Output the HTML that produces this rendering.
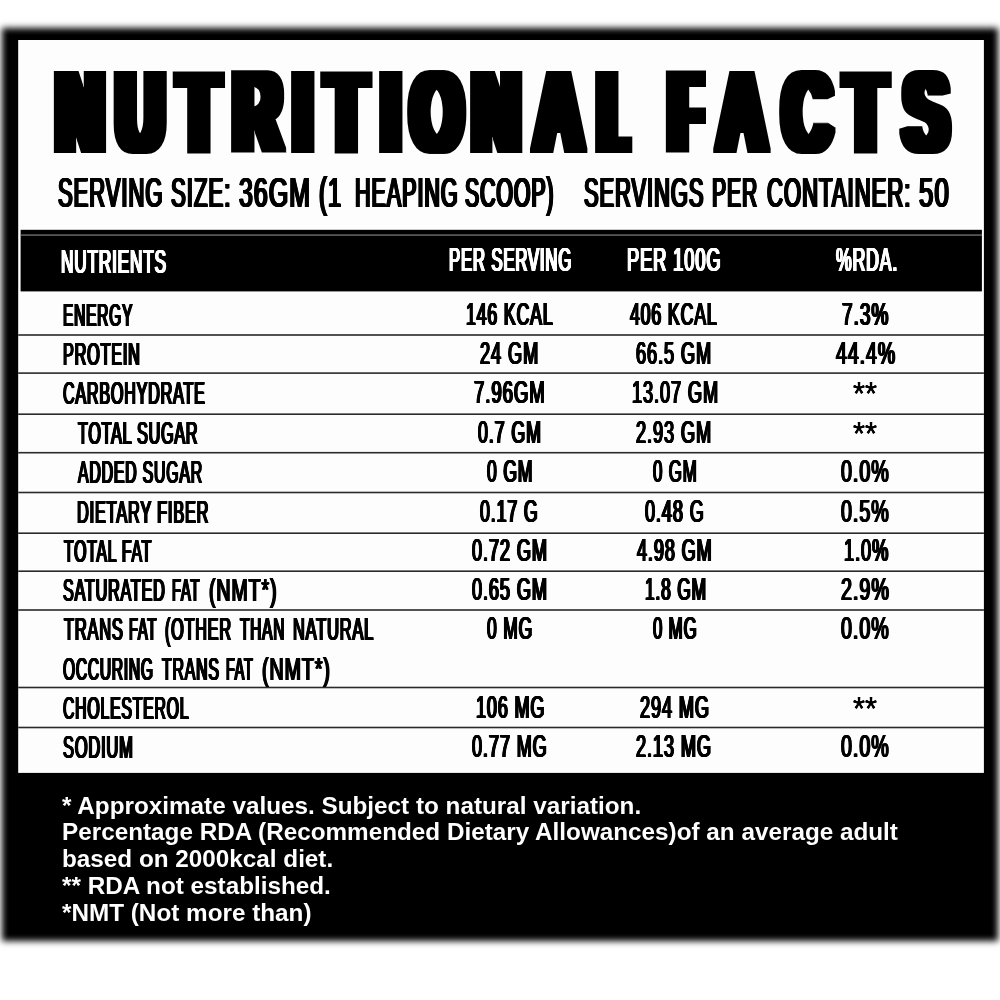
<!DOCTYPE html>
<html lang="en"><head><meta charset="utf-8"><title>Nutritional Facts</title>
<style>
html,body{margin:0;padding:0;background:#fff;}
body{width:1000px;height:1000px;position:relative;overflow:hidden;font-family:"Liberation Sans",sans-serif;}
.frame{position:absolute;left:8.5px;top:34.5px;width:982.5px;height:899.3px;background:#000;box-shadow:0 0 6.5px 7px #000;}
.ov{position:absolute;left:0;top:0;}
.t{position:absolute;white-space:nowrap;line-height:1;transform-origin:0 0;display:block;}
.b{font-weight:bold;}
.r{font-weight:normal;}
.foot{position:absolute;color:#fff;font-weight:bold;white-space:nowrap;transform-origin:0 0;}
.g{position:absolute;left:0;top:0;width:1000px;height:1000px;filter:grayscale(1);}
</style></head><body><div class="g">
<div class="frame"></div>
<svg class="ov" width="1000" height="1000" viewBox="0 0 1000 1000">
<rect x="18.2" y="40" width="965.7" height="732.9" fill="#fdfdfd"/>
<rect x="20.6" y="229.8" width="961.3" height="61.6" fill="#000"/>
<rect x="20.6" y="234.5" width="961.3" height="1.1" fill="#8c8c8c"/>
<rect x="18.2" y="334.20" width="965.7" height="1.60" fill="#2a2a2a"/>
<rect x="18.2" y="372.30" width="965.7" height="1.60" fill="#2a2a2a"/>
<rect x="18.2" y="413.40" width="965.7" height="1.60" fill="#2a2a2a"/>
<rect x="18.2" y="451.90" width="965.7" height="1.60" fill="#2a2a2a"/>
<rect x="18.2" y="491.70" width="965.7" height="1.60" fill="#2a2a2a"/>
<rect x="18.2" y="532.40" width="965.7" height="1.60" fill="#2a2a2a"/>
<rect x="18.2" y="570.40" width="965.7" height="1.60" fill="#2a2a2a"/>
<rect x="18.2" y="609.20" width="965.7" height="1.60" fill="#2a2a2a"/>
<rect x="18.2" y="686.70" width="965.7" height="1.60" fill="#2a2a2a"/>
<rect x="18.2" y="726.70" width="965.7" height="1.60" fill="#2a2a2a"/>
<defs><filter id="hv" filterUnits="userSpaceOnUse" x="0" y="40" width="1000" height="140"><feMorphology operator="dilate" radius="7 2"/></filter></defs><g filter="url(#hv)"><text transform="translate(0,150.80) scale(0.5704,1)" font-family="Liberation Sans, sans-serif" font-weight="bold" font-size="113.95" fill="#000" x="99.1 204.5 313.8 409.7 514.9 572.2 669.1 721.6 828.9 938.6 1048.0 1122.0 1171.9 1259.7 1373.8 1482.9 1585.1">NUTRITIONAL FACTS</text></g><rect x="632.3" y="120" width="14" height="36" fill="#fdfdfd"/><rect x="706" y="66" width="7" height="58" fill="#fdfdfd"/>
</svg>
<span class="t r" style="left:58.36px;top:170.96px;font-size:42.88px;transform:scaleX(0.5127);color:#000;letter-spacing:0.045em;text-shadow:-2.05px 0.00px 0 #000,-1.37px 0.00px 0 #000,-0.68px 0.00px 0 #000,0.68px 0.00px 0 #000,1.37px 0.00px 0 #000,2.05px 0.00px 0 #000;">SERVING</span>
<span class="t r" style="left:170.95px;top:170.96px;font-size:42.88px;transform:scaleX(0.5168);color:#000;letter-spacing:0.045em;text-shadow:-2.03px 0.00px 0 #000,-1.35px 0.00px 0 #000,-0.68px 0.00px 0 #000,0.68px 0.00px 0 #000,1.35px 0.00px 0 #000,2.03px 0.00px 0 #000;">SIZE:</span>
<span class="t r" style="left:239.42px;top:170.96px;font-size:42.88px;transform:scaleX(0.5788);color:#000;letter-spacing:0.045em;text-shadow:-1.81px 0.00px 0 #000,-1.21px 0.00px 0 #000,-0.60px 0.00px 0 #000,0.60px 0.00px 0 #000,1.21px 0.00px 0 #000,1.81px 0.00px 0 #000;">36GM</span>
<span class="t r" style="left:319.13px;top:170.96px;font-size:42.88px;transform:scaleX(0.5509);color:#000;letter-spacing:0.045em;text-shadow:-1.91px 0.00px 0 #000,-1.27px 0.00px 0 #000,-0.64px 0.00px 0 #000,0.64px 0.00px 0 #000,1.27px 0.00px 0 #000,1.91px 0.00px 0 #000;">(1</span>
<span class="t r" style="left:355.23px;top:170.96px;font-size:42.88px;transform:scaleX(0.5015);color:#000;letter-spacing:0.045em;text-shadow:-2.09px 0.00px 0 #000,-1.40px 0.00px 0 #000,-0.70px 0.00px 0 #000,0.70px 0.00px 0 #000,1.40px 0.00px 0 #000,2.09px 0.00px 0 #000;">HEAPING</span>
<span class="t r" style="left:465.19px;top:170.96px;font-size:42.88px;transform:scaleX(0.4952);color:#000;letter-spacing:0.045em;text-shadow:-2.12px 0.00px 0 #000,-1.59px 0.00px 0 #000,-1.06px 0.00px 0 #000,-0.53px 0.00px 0 #000,0.53px 0.00px 0 #000,1.06px 0.00px 0 #000,1.59px 0.00px 0 #000,2.12px 0.00px 0 #000;">SCOOP)</span>
<span class="t r" style="left:583.57px;top:170.96px;font-size:42.88px;transform:scaleX(0.5098);color:#000;letter-spacing:0.045em;text-shadow:-2.06px 0.00px 0 #000,-1.37px 0.00px 0 #000,-0.69px 0.00px 0 #000,0.69px 0.00px 0 #000,1.37px 0.00px 0 #000,2.06px 0.00px 0 #000;">SERVINGS</span>
<span class="t r" style="left:711.86px;top:170.96px;font-size:42.88px;transform:scaleX(0.4926);color:#000;letter-spacing:0.045em;text-shadow:-2.13px 0.00px 0 #000,-1.60px 0.00px 0 #000,-1.07px 0.00px 0 #000,-0.53px 0.00px 0 #000,0.53px 0.00px 0 #000,1.07px 0.00px 0 #000,1.60px 0.00px 0 #000,2.13px 0.00px 0 #000;">PER</span>
<span class="t r" style="left:766.55px;top:170.96px;font-size:42.88px;transform:scaleX(0.5147);color:#000;letter-spacing:0.045em;text-shadow:-2.04px 0.00px 0 #000,-1.36px 0.00px 0 #000,-0.68px 0.00px 0 #000,0.68px 0.00px 0 #000,1.36px 0.00px 0 #000,2.04px 0.00px 0 #000;">CONTAINER:</span>
<span class="t r" style="left:919.42px;top:170.96px;font-size:42.88px;transform:scaleX(0.6011);color:#000;letter-spacing:0.045em;text-shadow:-1.75px 0.00px 0 #000,-1.16px 0.00px 0 #000,-0.58px 0.00px 0 #000,0.58px 0.00px 0 #000,1.16px 0.00px 0 #000,1.75px 0.00px 0 #000;">50</span>
<span class="t r" style="left:61.28px;top:244.57px;font-size:33.87px;transform:scaleX(0.5066);color:#fff;letter-spacing:0.050em;text-shadow:-1.68px 0.00px 0 #fff,-1.12px 0.00px 0 #fff,-0.56px 0.00px 0 #fff,0.56px 0.00px 0 #fff,1.12px 0.00px 0 #fff,1.68px 0.00px 0 #fff;">NUTRIENTS</span>
<span class="t r" style="left:448.51px;top:244.42px;font-size:32.56px;transform:scaleX(0.5136);color:#fff;letter-spacing:0.050em;text-shadow:-1.65px 0.00px 0 #fff,-1.10px 0.00px 0 #fff,-0.55px 0.00px 0 #fff,0.55px 0.00px 0 #fff,1.10px 0.00px 0 #fff,1.65px 0.00px 0 #fff;">PER SERVING</span>
<span class="t r" style="left:627.39px;top:244.42px;font-size:32.56px;transform:scaleX(0.5603);color:#fff;letter-spacing:0.050em;text-shadow:-1.52px 0.00px 0 #fff,-1.01px 0.00px 0 #fff,-0.51px 0.00px 0 #fff,0.51px 0.00px 0 #fff,1.01px 0.00px 0 #fff,1.52px 0.00px 0 #fff;">PER 100G</span>
<span class="t r" style="left:835.63px;top:244.42px;font-size:32.56px;transform:scaleX(0.5414);color:#fff;letter-spacing:0.050em;text-shadow:-1.57px 0.00px 0 #fff,-1.05px 0.00px 0 #fff,-0.52px 0.00px 0 #fff,0.52px 0.00px 0 #fff,1.05px 0.00px 0 #fff,1.57px 0.00px 0 #fff;">%RDA.</span>
<span class="t r" style="left:62.61px;top:300.08px;font-size:31.83px;transform:scaleX(0.4873);color:#000;letter-spacing:0.050em;text-shadow:-1.74px 0.00px 0 #000,-1.16px 0.00px 0 #000,-0.58px 0.00px 0 #000,0.58px 0.00px 0 #000,1.16px 0.00px 0 #000,1.74px 0.00px 0 #000;">ENERGY</span>
<span class="t r" style="left:465.53px;top:298.98px;font-size:31.83px;transform:scaleX(0.5547);color:#000;letter-spacing:0.050em;text-shadow:-1.53px 0.00px 0 #000,-1.02px 0.00px 0 #000,-0.51px 0.00px 0 #000,0.51px 0.00px 0 #000,1.02px 0.00px 0 #000,1.53px 0.00px 0 #000;">146 KCAL</span>
<span class="t r" style="left:630.45px;top:298.98px;font-size:31.83px;transform:scaleX(0.5552);color:#000;letter-spacing:0.050em;text-shadow:-1.53px 0.00px 0 #000,-1.02px 0.00px 0 #000,-0.51px 0.00px 0 #000,0.51px 0.00px 0 #000,1.02px 0.00px 0 #000,1.53px 0.00px 0 #000;">406 KCAL</span>
<span class="t r" style="left:842.39px;top:298.98px;font-size:31.83px;transform:scaleX(0.6001);color:#000;letter-spacing:0.050em;text-shadow:-1.42px 0.00px 0 #000,-0.94px 0.00px 0 #000,-0.47px 0.00px 0 #000,0.47px 0.00px 0 #000,0.94px 0.00px 0 #000,1.42px 0.00px 0 #000;">7.3%</span>
<span class="t r" style="left:62.55px;top:339.38px;font-size:31.83px;transform:scaleX(0.5091);color:#000;letter-spacing:0.050em;text-shadow:-1.67px 0.00px 0 #000,-1.11px 0.00px 0 #000,-0.56px 0.00px 0 #000,0.56px 0.00px 0 #000,1.11px 0.00px 0 #000,1.67px 0.00px 0 #000;">PROTEIN</span>
<span class="t r" style="left:479.94px;top:338.28px;font-size:31.83px;transform:scaleX(0.5709);color:#000;letter-spacing:0.050em;text-shadow:-1.49px 0.00px 0 #000,-0.99px 0.00px 0 #000,-0.50px 0.00px 0 #000,0.50px 0.00px 0 #000,0.99px 0.00px 0 #000,1.49px 0.00px 0 #000;">24 GM</span>
<span class="t r" style="left:636.44px;top:338.28px;font-size:31.83px;transform:scaleX(0.5711);color:#000;letter-spacing:0.050em;text-shadow:-1.49px 0.00px 0 #000,-0.99px 0.00px 0 #000,-0.50px 0.00px 0 #000,0.50px 0.00px 0 #000,0.99px 0.00px 0 #000,1.49px 0.00px 0 #000;">66.5 GM</span>
<span class="t r" style="left:836.41px;top:338.28px;font-size:31.83px;transform:scaleX(0.6117);color:#000;letter-spacing:0.050em;text-shadow:-1.39px 0.00px 0 #000,-0.69px 0.00px 0 #000,0.69px 0.00px 0 #000,1.39px 0.00px 0 #000;">44.4%</span>
<span class="t r" style="left:63.05px;top:378.18px;font-size:31.83px;transform:scaleX(0.5056);color:#000;letter-spacing:0.050em;text-shadow:-1.68px 0.00px 0 #000,-1.12px 0.00px 0 #000,-0.56px 0.00px 0 #000,0.56px 0.00px 0 #000,1.12px 0.00px 0 #000,1.68px 0.00px 0 #000;">CARBOHYDRATE</span>
<span class="t r" style="left:473.92px;top:377.08px;font-size:31.83px;transform:scaleX(0.5836);color:#000;letter-spacing:0.050em;text-shadow:-1.46px 0.00px 0 #000,-0.97px 0.00px 0 #000,-0.49px 0.00px 0 #000,0.49px 0.00px 0 #000,0.97px 0.00px 0 #000,1.46px 0.00px 0 #000;">7.96GM</span>
<span class="t r" style="left:631.99px;top:377.08px;font-size:31.83px;transform:scaleX(0.5707);color:#000;letter-spacing:0.050em;text-shadow:-1.49px 0.00px 0 #000,-0.99px 0.00px 0 #000,-0.50px 0.00px 0 #000,0.50px 0.00px 0 #000,0.99px 0.00px 0 #000,1.49px 0.00px 0 #000;">13.07 GM</span>
<span class="t r" style="left:853.39px;top:377.28px;font-size:33.43px;transform:scaleX(0.9213);color:#000;text-shadow:-0.27px 0.00px 0 #000,0.27px 0.00px 0 #000;">**</span>
<span class="t r" style="left:77.83px;top:417.98px;font-size:31.83px;transform:scaleX(0.5056);color:#000;letter-spacing:0.050em;text-shadow:-1.68px 0.00px 0 #000,-1.12px 0.00px 0 #000,-0.56px 0.00px 0 #000,0.56px 0.00px 0 #000,1.12px 0.00px 0 #000,1.68px 0.00px 0 #000;">TOTAL SUGAR</span>
<span class="t r" style="left:477.68px;top:416.88px;font-size:31.83px;transform:scaleX(0.5600);color:#000;letter-spacing:0.050em;text-shadow:-1.52px 0.00px 0 #000,-1.01px 0.00px 0 #000,-0.51px 0.00px 0 #000,0.51px 0.00px 0 #000,1.01px 0.00px 0 #000,1.52px 0.00px 0 #000;">0.7 GM</span>
<span class="t r" style="left:636.44px;top:416.88px;font-size:31.83px;transform:scaleX(0.5711);color:#000;letter-spacing:0.050em;text-shadow:-1.49px 0.00px 0 #000,-0.99px 0.00px 0 #000,-0.50px 0.00px 0 #000,0.50px 0.00px 0 #000,0.99px 0.00px 0 #000,1.49px 0.00px 0 #000;">2.93 GM</span>
<span class="t r" style="left:853.39px;top:417.08px;font-size:33.43px;transform:scaleX(0.9213);color:#000;text-shadow:-0.27px 0.00px 0 #000,0.27px 0.00px 0 #000;">**</span>
<span class="t r" style="left:78.15px;top:456.88px;font-size:31.83px;transform:scaleX(0.4981);color:#000;letter-spacing:0.050em;text-shadow:-1.71px 0.00px 0 #000,-1.14px 0.00px 0 #000,-0.57px 0.00px 0 #000,0.57px 0.00px 0 #000,1.14px 0.00px 0 #000,1.71px 0.00px 0 #000;">ADDED SUGAR</span>
<span class="t r" style="left:486.69px;top:455.78px;font-size:31.83px;transform:scaleX(0.5492);color:#000;letter-spacing:0.050em;text-shadow:-1.55px 0.00px 0 #000,-1.03px 0.00px 0 #000,-0.52px 0.00px 0 #000,0.52px 0.00px 0 #000,1.03px 0.00px 0 #000,1.55px 0.00px 0 #000;">0 GM</span>
<span class="t r" style="left:652.72px;top:455.78px;font-size:31.83px;transform:scaleX(0.5302);color:#000;letter-spacing:0.050em;text-shadow:-1.60px 0.00px 0 #000,-1.07px 0.00px 0 #000,-0.53px 0.00px 0 #000,0.53px 0.00px 0 #000,1.07px 0.00px 0 #000,1.60px 0.00px 0 #000;">0 GM</span>
<span class="t r" style="left:841.11px;top:455.78px;font-size:31.83px;transform:scaleX(0.6169);color:#000;letter-spacing:0.050em;text-shadow:-1.38px 0.00px 0 #000,-0.69px 0.00px 0 #000,0.69px 0.00px 0 #000,1.38px 0.00px 0 #000;">0.0%</span>
<span class="t r" style="left:77.34px;top:496.78px;font-size:31.83px;transform:scaleX(0.5136);color:#000;letter-spacing:0.050em;text-shadow:-1.66px 0.00px 0 #000,-1.10px 0.00px 0 #000,-0.55px 0.00px 0 #000,0.55px 0.00px 0 #000,1.10px 0.00px 0 #000,1.66px 0.00px 0 #000;">DIETARY FIBER</span>
<span class="t r" style="left:480.18px;top:495.68px;font-size:31.83px;transform:scaleX(0.5580);color:#000;letter-spacing:0.050em;text-shadow:-1.52px 0.00px 0 #000,-1.02px 0.00px 0 #000,-0.51px 0.00px 0 #000,0.51px 0.00px 0 #000,1.02px 0.00px 0 #000,1.52px 0.00px 0 #000;">0.17 G</span>
<span class="t r" style="left:645.17px;top:495.68px;font-size:31.83px;transform:scaleX(0.5680);color:#000;letter-spacing:0.050em;text-shadow:-1.50px 0.00px 0 #000,-1.00px 0.00px 0 #000,-0.50px 0.00px 0 #000,0.50px 0.00px 0 #000,1.00px 0.00px 0 #000,1.50px 0.00px 0 #000;">0.48 G</span>
<span class="t r" style="left:841.11px;top:495.68px;font-size:31.83px;transform:scaleX(0.6169);color:#000;letter-spacing:0.050em;text-shadow:-1.38px 0.00px 0 #000,-0.69px 0.00px 0 #000,0.69px 0.00px 0 #000,1.38px 0.00px 0 #000;">0.5%</span>
<span class="t r" style="left:63.53px;top:536.18px;font-size:31.83px;transform:scaleX(0.4957);color:#000;letter-spacing:0.050em;text-shadow:-1.71px 0.00px 0 #000,-1.14px 0.00px 0 #000,-0.57px 0.00px 0 #000,0.57px 0.00px 0 #000,1.14px 0.00px 0 #000,1.71px 0.00px 0 #000;">TOTAL FAT</span>
<span class="t r" style="left:471.67px;top:535.08px;font-size:31.83px;transform:scaleX(0.5693);color:#000;letter-spacing:0.050em;text-shadow:-1.49px 0.00px 0 #000,-1.00px 0.00px 0 #000,-0.50px 0.00px 0 #000,0.50px 0.00px 0 #000,1.00px 0.00px 0 #000,1.49px 0.00px 0 #000;">0.72 GM</span>
<span class="t r" style="left:636.94px;top:535.08px;font-size:31.83px;transform:scaleX(0.5672);color:#000;letter-spacing:0.050em;text-shadow:-1.50px 0.00px 0 #000,-1.00px 0.00px 0 #000,-0.50px 0.00px 0 #000,0.50px 0.00px 0 #000,1.00px 0.00px 0 #000,1.50px 0.00px 0 #000;">4.98 GM</span>
<span class="t r" style="left:844.48px;top:535.08px;font-size:31.83px;transform:scaleX(0.5727);color:#000;letter-spacing:0.050em;text-shadow:-1.48px 0.00px 0 #000,-0.99px 0.00px 0 #000,-0.49px 0.00px 0 #000,0.49px 0.00px 0 #000,0.99px 0.00px 0 #000,1.48px 0.00px 0 #000;">1.0%</span>
<span class="t r" style="left:63.12px;top:574.88px;font-size:31.83px;transform:scaleX(0.5069);color:#000;letter-spacing:0.050em;text-shadow:-1.68px 0.00px 0 #000,-1.12px 0.00px 0 #000,-0.56px 0.00px 0 #000,0.56px 0.00px 0 #000,1.12px 0.00px 0 #000,1.68px 0.00px 0 #000;">SATURATED</span>
<span class="t r" style="left:172.17px;top:574.88px;font-size:31.83px;transform:scaleX(0.4645);color:#000;letter-spacing:0.050em;text-shadow:-1.83px 0.00px 0 #000,-1.22px 0.00px 0 #000,-0.61px 0.00px 0 #000,0.61px 0.00px 0 #000,1.22px 0.00px 0 #000,1.83px 0.00px 0 #000;">FAT</span>
<span class="t r" style="left:208.98px;top:574.88px;font-size:31.83px;transform:scaleX(0.6113);color:#000;letter-spacing:0.050em;text-shadow:-1.39px 0.00px 0 #000,-0.70px 0.00px 0 #000,0.70px 0.00px 0 #000,1.39px 0.00px 0 #000;">(NMT*)</span>
<span class="t r" style="left:471.67px;top:573.78px;font-size:31.83px;transform:scaleX(0.5693);color:#000;letter-spacing:0.050em;text-shadow:-1.49px 0.00px 0 #000,-1.00px 0.00px 0 #000,-0.50px 0.00px 0 #000,0.50px 0.00px 0 #000,1.00px 0.00px 0 #000,1.49px 0.00px 0 #000;">0.65 GM</span>
<span class="t r" style="left:644.55px;top:573.78px;font-size:31.83px;transform:scaleX(0.5429);color:#000;letter-spacing:0.050em;text-shadow:-1.57px 0.00px 0 #000,-1.04px 0.00px 0 #000,-0.52px 0.00px 0 #000,0.52px 0.00px 0 #000,1.04px 0.00px 0 #000,1.57px 0.00px 0 #000;">1.8 GM</span>
<span class="t r" style="left:840.86px;top:573.78px;font-size:31.83px;transform:scaleX(0.6202);color:#000;letter-spacing:0.050em;text-shadow:-1.37px 0.00px 0 #000,-0.69px 0.00px 0 #000,0.69px 0.00px 0 #000,1.37px 0.00px 0 #000;">2.9%</span>
<span class="t r" style="left:63.72px;top:614.38px;font-size:31.83px;transform:scaleX(0.5152);color:#000;letter-spacing:0.050em;text-shadow:-1.65px 0.00px 0 #000,-1.10px 0.00px 0 #000,-0.55px 0.00px 0 #000,0.55px 0.00px 0 #000,1.10px 0.00px 0 #000,1.65px 0.00px 0 #000;">TRANS</span>
<span class="t r" style="left:128.97px;top:614.38px;font-size:31.83px;transform:scaleX(0.4628);color:#000;letter-spacing:0.050em;text-shadow:-1.84px 0.00px 0 #000,-1.22px 0.00px 0 #000,-0.61px 0.00px 0 #000,0.61px 0.00px 0 #000,1.22px 0.00px 0 #000,1.84px 0.00px 0 #000;">FAT</span>
<span class="t r" style="left:165.48px;top:614.38px;font-size:31.83px;transform:scaleX(0.5077);color:#000;letter-spacing:0.050em;text-shadow:-1.67px 0.00px 0 #000,-1.12px 0.00px 0 #000,-0.56px 0.00px 0 #000,0.56px 0.00px 0 #000,1.12px 0.00px 0 #000,1.67px 0.00px 0 #000;">(OTHER</span>
<span class="t r" style="left:240.34px;top:614.38px;font-size:31.83px;transform:scaleX(0.4861);color:#000;letter-spacing:0.050em;text-shadow:-1.75px 0.00px 0 #000,-1.17px 0.00px 0 #000,-0.58px 0.00px 0 #000,0.58px 0.00px 0 #000,1.17px 0.00px 0 #000,1.75px 0.00px 0 #000;">THAN</span>
<span class="t r" style="left:292.84px;top:614.38px;font-size:31.83px;transform:scaleX(0.5157);color:#000;letter-spacing:0.050em;text-shadow:-1.65px 0.00px 0 #000,-1.10px 0.00px 0 #000,-0.55px 0.00px 0 #000,0.55px 0.00px 0 #000,1.10px 0.00px 0 #000,1.65px 0.00px 0 #000;">NATURAL</span>
<span class="t r" style="left:486.70px;top:613.28px;font-size:31.83px;transform:scaleX(0.5475);color:#000;letter-spacing:0.050em;text-shadow:-1.55px 0.00px 0 #000,-1.03px 0.00px 0 #000,-0.52px 0.00px 0 #000,0.52px 0.00px 0 #000,1.03px 0.00px 0 #000,1.55px 0.00px 0 #000;">0 MG</span>
<span class="t r" style="left:652.72px;top:613.28px;font-size:31.83px;transform:scaleX(0.5285);color:#000;letter-spacing:0.050em;text-shadow:-1.61px 0.00px 0 #000,-1.07px 0.00px 0 #000,-0.54px 0.00px 0 #000,0.54px 0.00px 0 #000,1.07px 0.00px 0 #000,1.61px 0.00px 0 #000;">0 MG</span>
<span class="t r" style="left:841.11px;top:613.28px;font-size:31.83px;transform:scaleX(0.6169);color:#000;letter-spacing:0.050em;text-shadow:-1.38px 0.00px 0 #000,-0.69px 0.00px 0 #000,0.69px 0.00px 0 #000,1.38px 0.00px 0 #000;">0.0%</span>
<span class="t r" style="left:63.35px;top:653.58px;font-size:31.83px;transform:scaleX(0.4876);color:#000;letter-spacing:0.050em;text-shadow:-1.74px 0.00px 0 #000,-1.16px 0.00px 0 #000,-0.58px 0.00px 0 #000,0.58px 0.00px 0 #000,1.16px 0.00px 0 #000,1.74px 0.00px 0 #000;">OCCURING</span>
<span class="t r" style="left:161.83px;top:653.58px;font-size:31.83px;transform:scaleX(0.4991);color:#000;letter-spacing:0.050em;text-shadow:-1.70px 0.00px 0 #000,-1.14px 0.00px 0 #000,-0.57px 0.00px 0 #000,0.57px 0.00px 0 #000,1.14px 0.00px 0 #000,1.70px 0.00px 0 #000;">TRANS</span>
<span class="t r" style="left:226.30px;top:653.58px;font-size:31.83px;transform:scaleX(0.4525);color:#000;letter-spacing:0.050em;text-shadow:-1.88px 0.00px 0 #000,-1.25px 0.00px 0 #000,-0.63px 0.00px 0 #000,0.63px 0.00px 0 #000,1.25px 0.00px 0 #000,1.88px 0.00px 0 #000;">FAT</span>
<span class="t r" style="left:261.98px;top:653.58px;font-size:31.83px;transform:scaleX(0.6150);color:#000;letter-spacing:0.050em;text-shadow:-1.38px 0.00px 0 #000,-0.69px 0.00px 0 #000,0.69px 0.00px 0 #000,1.38px 0.00px 0 #000;">(NMT*)</span>
<span class="t r" style="left:63.06px;top:693.08px;font-size:31.83px;transform:scaleX(0.4965);color:#000;letter-spacing:0.050em;text-shadow:-1.71px 0.00px 0 #000,-1.14px 0.00px 0 #000,-0.57px 0.00px 0 #000,0.57px 0.00px 0 #000,1.14px 0.00px 0 #000,1.71px 0.00px 0 #000;">CHOLESTEROL</span>
<span class="t r" style="left:476.00px;top:691.98px;font-size:31.83px;transform:scaleX(0.5649);color:#000;letter-spacing:0.050em;text-shadow:-1.50px 0.00px 0 #000,-1.00px 0.00px 0 #000,-0.50px 0.00px 0 #000,0.50px 0.00px 0 #000,1.00px 0.00px 0 #000,1.50px 0.00px 0 #000;">106 MG</span>
<span class="t r" style="left:639.94px;top:691.98px;font-size:31.83px;transform:scaleX(0.5696);color:#000;letter-spacing:0.050em;text-shadow:-1.49px 0.00px 0 #000,-0.99px 0.00px 0 #000,-0.50px 0.00px 0 #000,0.50px 0.00px 0 #000,0.99px 0.00px 0 #000,1.49px 0.00px 0 #000;">294 MG</span>
<span class="t r" style="left:853.39px;top:692.18px;font-size:33.43px;transform:scaleX(0.9213);color:#000;text-shadow:-0.27px 0.00px 0 #000,0.27px 0.00px 0 #000;">**</span>
<span class="t r" style="left:63.11px;top:731.88px;font-size:31.83px;transform:scaleX(0.5164);color:#000;letter-spacing:0.050em;text-shadow:-1.65px 0.00px 0 #000,-1.10px 0.00px 0 #000,-0.55px 0.00px 0 #000,0.55px 0.00px 0 #000,1.10px 0.00px 0 #000,1.65px 0.00px 0 #000;">SODIUM</span>
<span class="t r" style="left:471.67px;top:730.78px;font-size:31.83px;transform:scaleX(0.5682);color:#000;letter-spacing:0.050em;text-shadow:-1.50px 0.00px 0 #000,-1.00px 0.00px 0 #000,-0.50px 0.00px 0 #000,0.50px 0.00px 0 #000,1.00px 0.00px 0 #000,1.50px 0.00px 0 #000;">0.77 MG</span>
<span class="t r" style="left:636.44px;top:730.78px;font-size:31.83px;transform:scaleX(0.5700);color:#000;letter-spacing:0.050em;text-shadow:-1.49px 0.00px 0 #000,-0.99px 0.00px 0 #000,-0.50px 0.00px 0 #000,0.50px 0.00px 0 #000,0.99px 0.00px 0 #000,1.49px 0.00px 0 #000;">2.13 MG</span>
<span class="t r" style="left:841.11px;top:730.78px;font-size:31.83px;transform:scaleX(0.6169);color:#000;letter-spacing:0.050em;text-shadow:-1.38px 0.00px 0 #000,-0.69px 0.00px 0 #000,0.69px 0.00px 0 #000,1.38px 0.00px 0 #000;">0.0%</span>
<div class="foot" style="left:62.40px;top:792.50px;font-size:23.30px;line-height:26.95px;transform:scaleX(1.0420)">* Approximate values. Subject to natural variation.<br>Percentage RDA (Recommended Dietary Allowances)of an average adult<br>based on 2000kcal diet.<br>** RDA not established.<br>*NMT (Not more than)</div>
</div></body></html>
